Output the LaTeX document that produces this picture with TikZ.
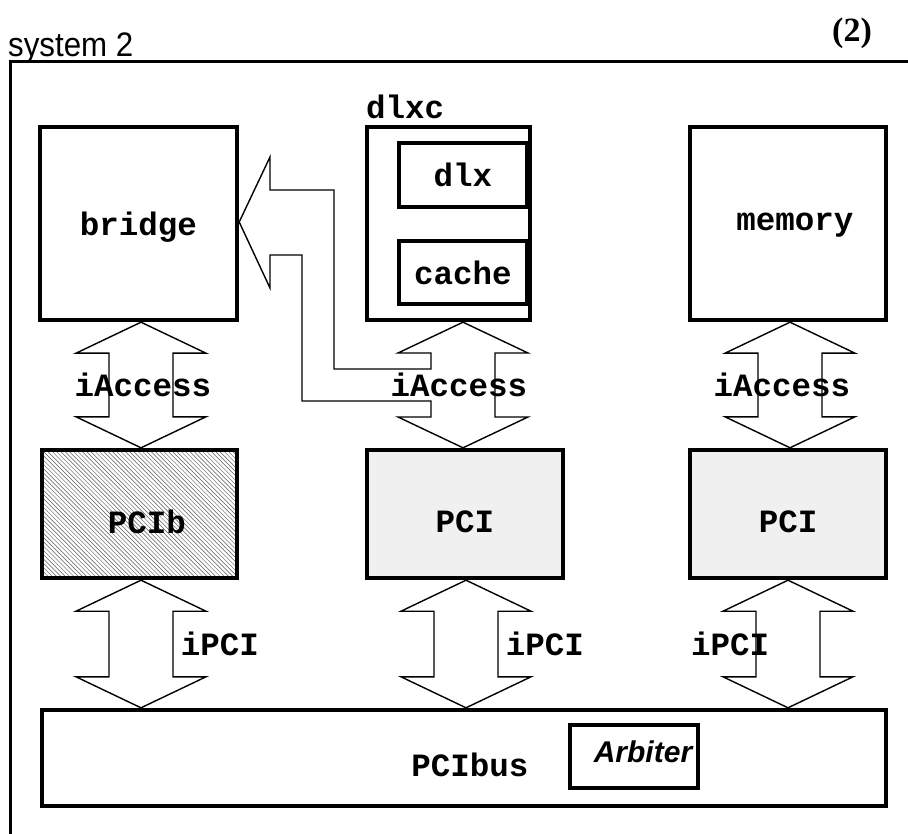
\documentclass[tikz,border=0pt]{standalone}
\usepackage{fontspec}
\setmainfont{Liberation Serif}
\newfontfamily\mono{Liberation Mono}
\newfontfamily\helv{Liberation Sans}
\usetikzlibrary{calc}
\newcommand\cf{\mono\bfseries\fontsize{32.5}{32.5}\selectfont}
\newcommand\fatarrow[2]{\draw[fat] (#1) -- ++(-65,31) -- ++(33,0) -- ($(#2)+(-32,-31)$) -- ++(-33,0) -- (#2) -- ++(65,-31) -- ++(-33,0) -- ($(#1)+(32,31)$) -- ++(33,0) -- cycle;}
\begin{document}
\begin{tikzpicture}[x=1pt,y=-1pt,
  box/.style={draw, line width=4.5pt, inner sep=0pt, font=\cf, text depth=0pt},
  sbox/.style={draw, line width=4pt, inner sep=0pt, font=\cf, text depth=0pt},
  lbl/.style={font=\cf, inner sep=0pt, text depth=0pt},
  fat/.style={draw, line width=1.4pt, line join=miter},
  hatch/.style={path picture={
     \foreach \i in {-32,...,48}
       \draw[line width=0.45pt, black!65]
         ($(path picture bounding box.north west)+(\i*4.3,0)$) -- ++(150,150);}}
]
\useasboundingbox (0,0) rectangle (908,834);
\fill[white] (0,0) rectangle (908,834);

% titles
\node[anchor=base west, inner sep=0pt, font=\helv\fontsize{34}{34}\selectfont, xscale=0.92] (title) at (8,57) {system 2};
\node[anchor=base, inner sep=0pt, font=\bfseries\fontsize{34}{34}\selectfont] (num) at (852,42) {(2)};

% outer frame
\draw[line width=3pt] (10,840) -- (10,62) -- (915,62);

% boxes
\node[box, minimum width=197pt, minimum height=193pt] (bridge) at (138.5,223.5) {bridge};
\node[box, minimum width=163pt, minimum height=193pt] (dlxc) at (448.5,223.5) {};
\node[lbl, anchor=west] (dlxcl) at (366,107) {dlxc};
\node[sbox, minimum width=128pt, minimum height=64pt] (dlx) at (463,175) {dlx};
\node[sbox, minimum width=128pt, minimum height=63pt] (cache) at (463,272.5) {cache};
\node[box, minimum width=196pt, minimum height=193pt] (memory) at (788,223.5) {};
\node[lbl] (memoryl) at (795,222) {memory};

\node[box, hatch, minimum width=195pt, minimum height=128pt] (PCIb) at (139.5,514) {};
\node[lbl] (PCIbl) at (147,522) {PCIb};
\node[box, fill=black!6, minimum width=196pt, minimum height=128pt] (PCIm) at (465,514) {};
\node[lbl] (PCIml) at (465,522) {PCI};
\node[box, fill=black!6, minimum width=196pt, minimum height=128pt] (PCIr) at (788,514) {};
\node[lbl] (PCIrl) at (788,522) {PCI};

\node[box, minimum width=844pt, minimum height=96pt] (PCIbus) at (464,758) {};
\node[lbl] (PCIbusl) at (470,765) {PCIbus};
\node[sbox, minimum width=128pt, minimum height=63pt] (arb) at (634,756.5) {};
\node[inner sep=0pt, text depth=0pt, font=\helv\bfseries\itshape\fontsize{30}{30}\selectfont] (arbl) at (643,752) {Arbiter};

% connector end points
\coordinate (a1t) at (141,322.2);
\coordinate (a1b) at (141,447.8);
\coordinate (a3t) at (790,322.2);
\coordinate (a3b) at (790,447.8);
\coordinate (p1t) at (141,580.2);
\coordinate (p1b) at (141,707.8);
\coordinate (p2t) at (466,580.2);
\coordinate (p2b) at (466,707.8);
\coordinate (p3t) at (788,580.2);
\coordinate (p3b) at (788,707.8);
\coordinate (a2t) at (463,322.2);
\coordinate (a2b) at (463,447.8);
\coordinate (brtip) at (239.2,222);

% fat arrows
\fatarrow{a1t}{a1b}
\fatarrow{a3t}{a3b}
\fatarrow{p1t}{p1b}
\fatarrow{p2t}{p2b}
\fatarrow{p3t}{p3b}

% middle iAccess with branch to bridge
\draw[fat] (a2t) -- (398,353) -- (431,353) -- (431,369) -- (334,369) -- (334,190)
  -- (270,190) -- (270,157) -- (brtip) -- (270,288) -- (270,255) -- (302,255)
  -- (302,401) -- (431,401) -- (431,417) -- (398,417) -- (a2b) -- (528,417)
  -- (495,417) -- (495,353) -- (528,353) -- cycle;

% arrow labels
\node[lbl] (la1) at (143,385) {iAccess};
\node[lbl] (la2) at (459,385) {iAccess};
\node[lbl] (la3) at (782,385) {iAccess};
\node[lbl] (lp1) at (220,644) {iPCI};
\node[lbl] (lp2) at (545,644) {iPCI};
\node[lbl] (lp3) at (730,644) {iPCI};
\end{tikzpicture}
\end{document}
